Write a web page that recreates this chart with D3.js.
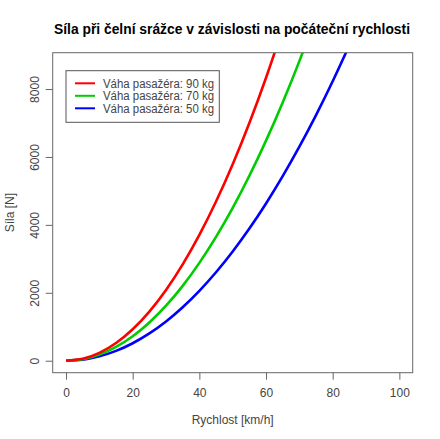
<!DOCTYPE html>
<html>
<head>
<meta charset="utf-8">
<script src="https://cdn.jsdelivr.net/npm/d3@7"></script>
<style>
  body { margin: 0; background: #fff; }
  svg { display: block; font-family: "Liberation Sans", Arial, sans-serif; }
</style>
</head>
<body>
<svg id="chart" width="440" height="439"></svg>
<script>
// Data
const title = "Síla při čelní srážce v závislosti na počáteční rychlosti";
const xLabel = "Rychlost [km/h]";
const yLabel = "Síla [N]";
const xTicks = [0, 20, 40, 60, 80, 100];
const yTicks = [0, 2000, 4000, 6000, 8000];

const speed90 = [0, 5, 10, 15, 20, 25, 30, 35, 40, 45, 50, 55, 60, 65];
const force90 = [0, 58, 231, 521, 926, 1447, 2083, 2836, 3704, 4688, 5787, 7002, 8333, 9780];

const speed70 = [0, 5, 10, 15, 20, 25, 30, 35, 40, 45, 50, 55, 60, 65, 70, 75];
const force70 = [0, 45, 180, 405, 720, 1125, 1620, 2205, 2881, 3646, 4501, 5446, 6481, 7607, 8822, 10127];

const speed50 = [0, 5, 10, 15, 20, 25, 30, 35, 40, 45, 50, 55, 60, 65, 70, 75, 80, 85];
const force50 = [0, 32, 129, 289, 514, 804, 1157, 1575, 2058, 2604, 3215, 3890, 4630, 5433, 6301, 7234, 8230, 9291];

const seriesNames = ["Váha pasažéra: 90 kg", "Váha pasažéra: 70 kg", "Váha pasažéra: 50 kg"];
const seriesColors = ["#ff0000", "#00cd00", "#0000ff"];

const series = [
  { name: seriesNames[0], color: seriesColors[0], pts: speed90.map((v, i) => [v, force90[i]]) },
  { name: seriesNames[1], color: seriesColors[1], pts: speed70.map((v, i) => [v, force70[i]]) },
  { name: seriesNames[2], color: seriesColors[2], pts: speed50.map((v, i) => [v, force50[i]]) }
];

const svg = d3.select("#chart");
const plot = { left: 52.7, right: 412.7, top: 52.7, bottom: 372.7 };

const x = d3.scaleLinear().domain([-4, 104]).range([plot.left, plot.right]);
const y = d3.scaleLinear().domain([-353, 9070]).range([plot.bottom, plot.top]);

const textCol = "#444";
const axisCol = "#666";

// clip
svg.append("defs").append("clipPath").attr("id", "clip")
  .append("rect")
  .attr("x", plot.left).attr("y", plot.top)
  .attr("width", plot.right - plot.left).attr("height", plot.bottom - plot.top);

// curves
const line = d3.line().x(d => x(d[0])).y(d => y(d[1])).curve(d3.curveNatural);
svg.append("g").attr("clip-path", "url(#clip)")
  .selectAll("path").data(series.slice().reverse()).join("path")
  .attr("d", d => line(d.pts))
  .attr("fill", "none")
  .attr("stroke", d => d.color)
  .attr("stroke-width", 2.6)
  .attr("stroke-linejoin", "round");

// box
svg.append("rect")
  .attr("x", plot.left).attr("y", plot.top)
  .attr("width", plot.right - plot.left).attr("height", plot.bottom - plot.top)
  .attr("fill", "none").attr("stroke", axisCol).attr("stroke-width", 1);

// x axis
const xAxis = d3.axisBottom(x).tickValues(xTicks).tickSize(7).tickPadding(9).tickFormat(d3.format("d"));
const gx = svg.append("g").attr("transform", `translate(0,${plot.bottom})`).call(xAxis);
gx.select(".domain").remove();
gx.selectAll(".tick line").attr("stroke", axisCol);
gx.selectAll(".tick text").attr("fill", textCol).attr("font-size", 12)
  .attr("font-family", "Liberation Sans, Arial, sans-serif");

// y axis
const yAxis = d3.axisLeft(y).tickValues(yTicks).tickSize(7).tickFormat(d3.format("d"));
const gy = svg.append("g").attr("transform", `translate(${plot.left},0)`).call(yAxis);
gy.select(".domain").remove();
gy.selectAll(".tick line").attr("stroke", axisCol);
gy.selectAll(".tick text")
  .attr("fill", textCol).attr("font-size", 12)
  .attr("font-family", "Liberation Sans, Arial, sans-serif")
  .attr("x", null).attr("dy", null)
  .attr("text-anchor", "middle")
  .attr("transform", "translate(-13.5,0) rotate(-90)");

// titles
svg.append("text").attr("x", 232).attr("y", 33.5)
  .attr("text-anchor", "middle").attr("font-size", 14).attr("font-weight", "bold")
  .attr("fill", "#000").attr("textLength", 356).attr("lengthAdjust", "spacingAndGlyphs")
  .text(title);

svg.append("text").attr("x", (plot.left + plot.right) / 2).attr("y", 424)
  .attr("text-anchor", "middle").attr("font-size", 12).attr("fill", textCol).text(xLabel);

svg.append("text").attr("transform", `translate(13.5,${(plot.top + plot.bottom) / 2}) rotate(-90)`)
  .attr("text-anchor", "middle").attr("font-size", 12).attr("fill", textCol).text(yLabel);

// legend
const lg = svg.append("g");
lg.append("rect").attr("x", 66).attr("y", 70.7).attr("width", 153.3).attr("height", 51.6)
  .attr("fill", "#fff").attr("stroke", "#555").attr("stroke-width", 1);
series.forEach((s, i) => {
  const yy = 83.3 + i * 12.5;
  lg.append("line").attr("x1", 75).attr("x2", 95).attr("y1", yy).attr("y2", yy)
    .attr("stroke", s.color).attr("stroke-width", 2);
  lg.append("text").attr("x", 103).attr("y", yy + 4.3).attr("font-size", 12)
    .attr("fill", textCol).attr("textLength", 111).attr("lengthAdjust", "spacingAndGlyphs")
    .text(s.name);
});
</script>
</body>
</html>
